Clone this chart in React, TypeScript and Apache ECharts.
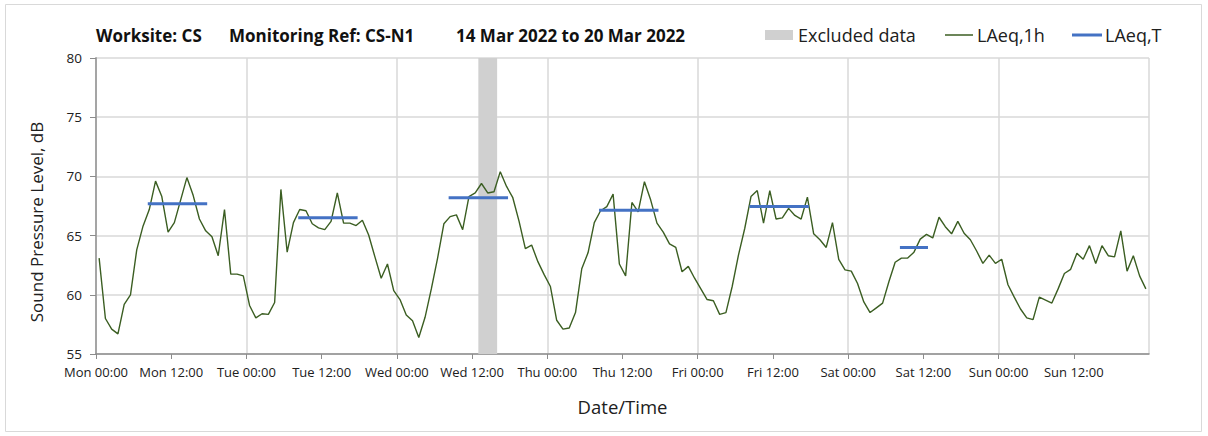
import React, { useEffect, useRef } from "react";
import * as echarts from "echarts";

// Hourly LAeq,1h values, Mon 00:00 -> Sun 23:00 (168 hours)
const laeq1h: number[] = [
  // Mon
  63.1, 58.0, 57.1, 56.7, 59.2, 60.0, 63.8, 65.8, 67.2, 69.6, 68.3, 65.3,
  66.1, 68.0, 69.9, 68.4, 66.4, 65.4, 64.9, 63.3, 67.2, 61.75, 61.75, 61.6,
  // Tue
  59.1, 58.05, 58.4, 58.35, 59.35, 68.9, 63.6, 66.1, 67.2, 67.1, 66.0, 65.65,
  65.5, 66.2, 68.6, 66.05, 66.05, 65.85, 66.3, 65.05, 63.2, 61.4, 62.6, 60.35,
  // Wed
  59.6, 58.3, 57.8, 56.4, 58.1, 60.5, 63.1, 66.0, 66.6, 66.75, 65.5, 68.3,
  68.6, 69.4, 68.6, 68.7, 70.4, 69.15, 68.2, 66.2, 63.9, 64.2, 62.8, 61.7,
  // Thu
  60.7, 57.85, 57.1, 57.2, 58.5, 62.2, 63.55, 66.1, 67.1, 67.45, 68.5, 62.6,
  61.6, 67.8, 67.0, 69.55, 68.0, 66.05, 65.3, 64.3, 64.0, 61.95, 62.4, 61.4,
  // Fri
  60.5, 59.6, 59.5, 58.35, 58.5, 60.7, 63.35, 65.6, 68.3, 68.8, 66.05, 68.8,
  66.4, 66.5, 67.3, 66.7, 66.4, 68.25, 65.15, 64.65, 64.0, 66.1, 63.0, 62.1,
  // Sat
  62.0, 60.95, 59.4, 58.5, 58.9, 59.3, 61.1, 62.75, 63.1, 63.1, 63.6, 64.7,
  65.1, 64.8, 66.55, 65.75, 65.15, 66.2, 65.2, 64.65, 63.7, 62.65, 63.35, 62.65,
  // Sun
  63.0, 60.85, 59.8, 58.8, 58.05, 57.9, 59.8, 59.55, 59.3, 60.5, 61.8, 62.15,
  63.5, 63.0, 64.15, 62.65, 64.15, 63.3, 63.2, 65.4, 62.0, 63.3, 61.6, 60.5,
];

// LAeq,T periods (hours from Mon 00:00) and values
const ltStartHours: number[] = [8.5, 32.5, 56.5, 80.5, 104.5, 128.5];
const ltEndHours: number[] = [17.5, 41.5, 65.5, 89.5, 113.5, 132.5];
const ltValues: number[] = [67.7, 66.5, 68.2, 67.15, 67.45, 64.0];

// Excluded data period (hours from Mon 00:00)
const excludedStart = 61;
const excludedEnd = 64;

const xTickLabels: string[] = [
  "Mon 00:00", "Mon 12:00", "Tue 00:00", "Tue 12:00", "Wed 00:00", "Wed 12:00",
  "Thu 00:00", "Thu 12:00", "Fri 00:00", "Fri 12:00", "Sat 00:00", "Sat 12:00",
  "Sun 00:00", "Sun 12:00",
];

const titleParts: string[] = ["Worksite: CS", "Monitoring Ref: CS-N1", "14 Mar 2022 to 20 Mar 2022"];

const FONT = "'Open Sans', 'Noto Sans', sans-serif";

export default function App() {
  const ref = useRef<HTMLDivElement>(null);
  useEffect(() => {
    if (!ref.current) return;
    const chart = echarts.init(ref.current, undefined, { renderer: "svg" });

    const lineData = laeq1h.map((v, i) => [i + 0.5, v]);
    const ltSeries = ltValues.map((v, i) => ({
      type: "line" as const,
      name: "LAeq,T",
      data: [
        [ltStartHours[i], v],
        [ltEndHours[i], v],
      ],
      symbol: "none",
      lineStyle: { color: "#4472c4", width: 3, cap: "square" as const },
      itemStyle: { color: "#4472c4" },
      z: 4,
    }));

    const legendBase = {
      top: 26,
      padding: 0,
      itemGap: 0,
      selectedMode: false,
    };
    const legendText = { fontFamily: FONT, fontSize: 18, color: "#202020" };

    chart.setOption({
      animation: false,
      backgroundColor: "#ffffff",
      textStyle: { fontFamily: FONT },
      grid: { left: 96, right: 59, top: 58, bottom: 82, containLabel: false },
      legend: [
        {
          ...legendBase,
          left: 765,
          itemWidth: 28,
          itemHeight: 10,
          textStyle: legendText,
          data: [{ name: "Excluded data", icon: "rect", itemStyle: { color: "#d0d0d0" } }],
        },
        {
          ...legendBase,
          left: 945,
          itemWidth: 28,
          itemHeight: 1.5,
          textStyle: { ...legendText, padding: [0, 0, 0, -1] },
          data: [{ name: "LAeq,1h", icon: "rect", itemStyle: { color: "#3b5e22" } }],
        },
        {
          ...legendBase,
          left: 1072,
          itemWidth: 30,
          itemHeight: 3,
          textStyle: { ...legendText, padding: [0, 0, 0, -2] },
          data: [{ name: "LAeq,T", icon: "rect", itemStyle: { color: "#4472c4" } }],
        },
      ],
      xAxis: [
        {
          type: "value",
          min: 0,
          max: 168,
          interval: 12,
          name: "Date/Time",
          nameLocation: "middle",
          nameGap: 43,
          nameTextStyle: { fontFamily: FONT, fontSize: 18.5, color: "#202020" },
          axisLine: { show: true, onZero: false, lineStyle: { color: "#8c8c8c", width: 1.5 } },
          axisTick: { show: true, length: 5, lineStyle: { color: "#8c8c8c" } },
          axisLabel: {
            fontFamily: FONT,
            fontSize: 13,
            color: "#202020",
            margin: 11,
            showMaxLabel: false,
            formatter: (v: number) => xTickLabels[Math.round(v / 12)] ?? "",
          },
          splitLine: { show: false },
        },
        {
          type: "value",
          min: 0,
          max: 168,
          interval: 24,
          position: "bottom",
          axisLine: { show: false },
          axisTick: { show: false },
          axisLabel: { show: false },
          splitLine: { show: true, lineStyle: { color: "#d9d9d9", width: 1.5 } },
        },
      ],
      yAxis: [
        {
          type: "value",
          min: 55,
          max: 80,
          interval: 5,
          axisLine: { show: true, lineStyle: { color: "#8c8c8c", width: 1.5 } },
          axisTick: { show: true, length: 6, lineStyle: { color: "#8c8c8c" } },
          axisLabel: { fontFamily: FONT, fontSize: 13.5, color: "#202020", margin: 14 },
          splitLine: { show: true, lineStyle: { color: "#d9d9d9", width: 1.5 } },
        },
        {
          type: "value",
          min: 55,
          max: 80,
          interval: 5,
          position: "right",
          axisLine: { show: true, lineStyle: { color: "#a6a6a6", width: 1.5 } },
          axisTick: { show: false },
          axisLabel: { show: false },
          splitLine: { show: false },
        },
      ],
      series: [
        {
          type: "bar",
          name: "Excluded data",
          data: [],
          itemStyle: { color: "#d0d0d0" },
          markArea: {
            silent: true,
            itemStyle: { color: "#d0d0d0", opacity: 1 },
            data: [[{ xAxis: excludedStart }, { xAxis: excludedEnd }]],
          },
          z: 1,
        },
        {
          type: "line",
          name: "LAeq,1h",
          data: lineData,
          symbol: "none",
          lineStyle: { color: "#3b5e22", width: 1.4 },
          itemStyle: { color: "#3b5e22" },
          z: 3,
        },
        ...ltSeries,
      ],
      graphic: [
        {
          type: "rect",
          shape: { x: 5.5, y: 4.5, width: 1196, height: 427 },
          style: { fill: "none", stroke: "#d9d9d9", lineWidth: 1 },
          silent: true,
        },
        {
          type: "text",
          x: 96,
          y: 35.5,
          style: { text: titleParts[0], font: `bold 17px ${FONT}`, fill: "#111", verticalAlign: "middle" },
        },
        {
          type: "text",
          x: 229,
          y: 35.5,
          style: { text: titleParts[1], font: `bold 17px ${FONT}`, fill: "#111", verticalAlign: "middle" },
        },
        {
          type: "text",
          x: 456,
          y: 35.5,
          style: { text: titleParts[2], font: `bold 17px ${FONT}`, fill: "#111", verticalAlign: "middle" },
        },
        {
          type: "text",
          x: 36.5,
          y: 222,
          rotation: Math.PI / 2,
          style: {
            text: "Sound Pressure Level, dB",
            font: `17px ${FONT}`,
            fill: "#202020",
            align: "center",
            verticalAlign: "middle",
          },
        },
      ],
    });
    return () => chart.dispose();
  }, []);

  return (
    <div
      ref={ref}
      style={{ position: "fixed", left: 0, top: 0, width: 1208, height: 436, background: "#fff" }}
    />
  );
}
